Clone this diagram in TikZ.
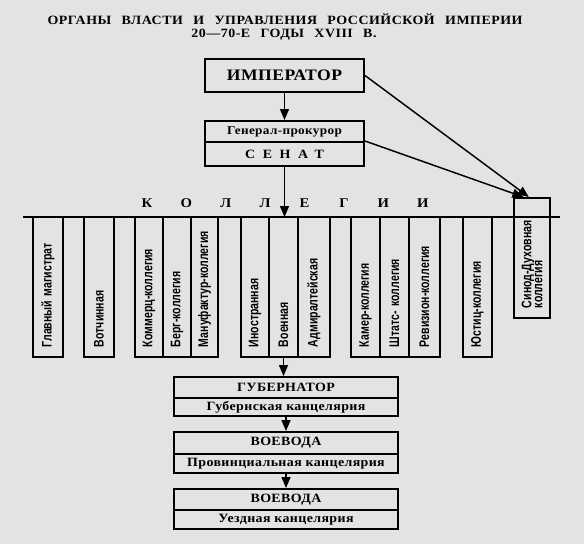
\documentclass[tikz,border=0pt]{standalone}
\usepackage{fontspec}
\setmainfont{Liberation Serif}
\newfontfamily\boxfont[LetterSpace=3,FakeStretch=1.1]{Liberation Serif}
\newfontfamily\titlefont[LetterSpace=4,WordSpace=2.6,FakeStretch=1.1]{Liberation Serif}
\newfontfamily\collfont[FakeStretch=0.76]{Liberation Sans}
\usetikzlibrary{arrows.meta}

\begin{document}
\begin{tikzpicture}[x=0.75pt,y=-0.75pt,
	box/.style={draw,line width=1.5pt,inner sep=0pt,minimum width=119.25pt,font=\boxfont\bfseries\fontsize{9.5}{10}\selectfont},
	wide/.style={box,minimum width=168pt},
	coll/.style={draw,line width=1.5pt,rotate=90,minimum width=105pt,text width=90pt,inner xsep=7.5pt,inner ysep=0pt,align=left,font=\collfont\bfseries\fontsize{10.4}{8.3}\selectfont},
	arr/.style={line width=1.1pt,-{Triangle[length=8.25pt,width=6.75pt]}},
	title/.style={font=\titlefont\bfseries\fontsize{9.5}{10}\selectfont}]
	\fill[black!11] (0,0) rectangle (584,544);
	\useasboundingbox (0,0) rectangle (584,544);
	\node[title] (title1) at (285,19) {ОРГАНЫ ВЛАСТИ И УПРАВЛЕНИЯ РОССИЙСКОЙ ИМПЕРИИ};
	\node[title] (title2) at (284,35) {20—70-Е ГОДЫ XVIII В.};
	\node[box,minimum height=24.75pt,font=\boxfont\bfseries\fontsize{12}{12}\selectfont] (imp) at (284.5,75.5) {ИМПЕРАТОР};
	\node[box,minimum height=15.75pt,font=\boxfont\bfseries\fontsize{9}{10}\selectfont] (genp) at (284.5,131.5) {Генерал-прокурор};
	\node[box,minimum height=18pt,font=\boxfont\bfseries\fontsize{9.5}{10}\selectfont\addfontfeature{LetterSpace=60}] (senat) at (284.5,154) {СЕНАТ};
	\coordinate (hl) at (23,217);
	\coordinate (hr) at (560,217);
	\foreach \l [count=\i from 0] in {К,О,Л,Л,Е,Г,И,И}
		\node[font=\boxfont\bfseries\fontsize{10}{10}\selectfont] (kol\i) at (147+39.4*\i,203) {\l};
	\node[coll,minimum height=22.5pt] (glav) at (48,287) {Главный магистрат};
	\node[coll,minimum height=22.5pt] (votch) at (99,287) {Вотчинная};
	\node[coll,minimum height=21pt] (komm) at (149,287) {Коммерц-коллегия};
	\node[coll,minimum height=21pt] (berg) at (177,287) {Берг-коллегия};
	\node[coll,minimum height=20.25pt] (manuf) at (204.5,287) {Мануфактур-коллегия};
	\node[coll,minimum height=21pt] (inostr) at (255,287) {Иностранная};
	\node[coll,minimum height=21.75pt] (voen) at (283.5,287) {Военная};
	\node[coll,minimum height=24pt] (admir) at (314,287) {Адмиралтейская};
	\node[coll,minimum height=21.75pt] (kamer) at (365.5,287) {Камер-коллегия};
	\node[coll,minimum height=21.75pt] (shtats) at (394.5,287) {Штатс- коллегия};
	\node[coll,minimum height=23.25pt] (reviz) at (424.5,287) {Ревизион-коллегия};
	\node[coll,minimum height=21.75pt] (yust) at (477.5,287) {Юстиц-коллегия};
	\node[coll,minimum width=90pt,minimum height=27pt,text width=75pt] (synod) at (532,258) {Синод-Духовная\\коллегия};
	\node[wide,minimum height=15.75pt] (gub) at (286,387.5) {ГУБЕРНАТОР};
	\node[wide,minimum height=13.5pt] (gubk) at (286,407) {Губернская канцелярия};
	\node[wide,minimum height=16.5pt] (voev1) at (286,443) {ВОЕВОДА};
	\node[wide,minimum height=14.25pt] (provk) at (286,463.5) {Провинциальная канцелярия};
	\node[wide,minimum height=15.75pt] (voev2) at (286,499.5) {ВОЕВОДА};
	\node[wide,minimum height=14.25pt] (uezk) at (286,519.5) {Уездная канцелярия};
	\draw[line width=1.5pt] (hl) -- (hr);
	\draw[arr] (imp) -- (genp);
	\draw[arr] (imp.east) -- (synod.3);
	\draw[arr] (senat.north east) -- (synod.8);
	\draw[arr] (senat) -- (senat |- hl);
	\draw[arr] (voen.west) -- (voen.west |- gub.north);
	\draw[arr] (gubk) -- (voev1);
	\draw[arr] (provk) -- (voev2);
\end{tikzpicture}
\end{document}
